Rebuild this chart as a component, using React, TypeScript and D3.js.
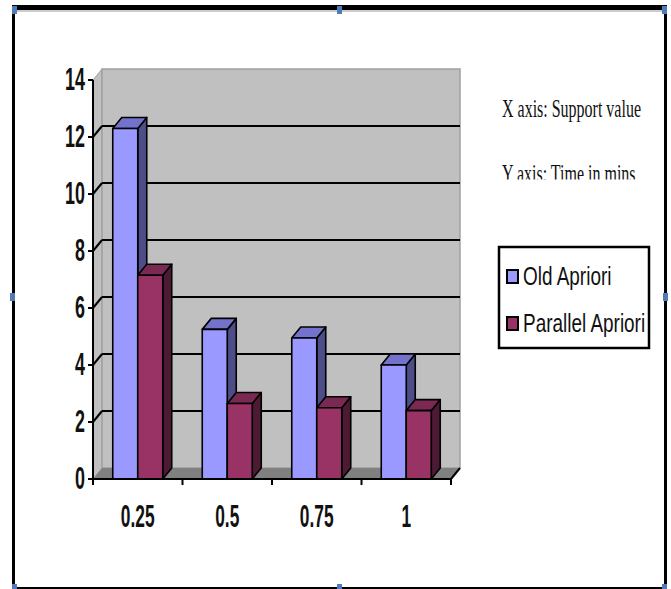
import * as d3 from "d3";

const categories = ["0.25", "0.5", "0.75", "1"];
const oldApriori = [12.3, 5.25, 4.95, 4.0];
const parallelApriori = [7.15, 2.65, 2.5, 2.4];
const seriesNames = ["Old Apriori", "Parallel Apriori"];
const yTicks = [0, 2, 4, 6, 8, 10, 12, 14];
const axisNotes = ["X axis: Support value", "Y axis: Time in mins"];

const W = 671;
const H = 589;
// 3d depth offset of walls / bars
const DX = 9;
const DY = -11;

const front = ["#9999ff", "#993366"];
const topFace = ["#7373cc", "#7a2952"];
const sideFace = ["#4d4d88", "#4d1a33"];

function Stretch({ x, y, sx, sy, anchor = "start", size, family, weight = "normal", children }: any) {
  return (
    <text
      transform={`translate(${x},${y}) scale(${sx},${sy})`}
      textAnchor={anchor}
      fontSize={size}
      fontFamily={family}
      fontWeight={weight}
      fill="#111"
    >
      {children}
    </text>
  );
}

function Bar3D({ x0, w, yTop, yBase, i }: { x0: number; w: number; yTop: number; yBase: number; i: number }) {
  const top = [
    [x0, yTop],
    [x0 + DX, yTop + DY],
    [x0 + w + DX, yTop + DY],
    [x0 + w, yTop],
  ];
  const side = [
    [x0 + w, yTop],
    [x0 + w + DX, yTop + DY],
    [x0 + w + DX, yBase + DY],
    [x0 + w, yBase],
  ];
  return (
    <g stroke="#000" strokeWidth={1.6} strokeLinejoin="round">
      <polygon points={side.join(" ")} fill={sideFace[i]} />
      <polygon points={top.join(" ")} fill={topFace[i]} />
      <rect x={x0} y={yTop} width={w} height={yBase - yTop} fill={front[i]} />
    </g>
  );
}

export default function App() {
  const x = d3.scaleBand<string>().domain(categories).range([93, 451]).padding(0);
  const xs = d3.scaleBand<string>().domain(seriesNames).range([0, x.bandwidth()]).paddingInner(0).paddingOuter(0.79);
  const y = d3.scaleLinear().domain([0, 14]).range([479, 80]);

  const x0 = 93;
  const x1 = 451;
  const y0 = y(0);
  const yMax = y(14);
  const values = [oldApriori, parallelApriori];

  const labelFont = "'Liberation Sans', Arial, sans-serif";
  const serif = "'Liberation Serif', 'Times New Roman', serif";

  const handles = [
    [12, 6], [337, 6], [662, 6],
    [10, 293], [663, 293],
    [12, 584], [337, 584], [662, 584],
  ];

  return (
    <svg width={W} height={H} style={{ position: "absolute", left: 0, top: 0 }}>
      <defs>
        <clipPath id="noteClip">
          <rect x={490} y={150} width={160} height={29.5} />
        </clipPath>
      </defs>
      <rect width={W} height={H} fill="#fff" />

      {/* frame */}
      <rect x={12} y={5} width={655} height={5} fill="#000" />
      <line x1={12} y1={11} x2={665} y2={11} stroke="#9a9a9a" strokeWidth={1} />
      <rect x={12} y={5} width={3} height={584} fill="#000" />
      <rect x={664} y={5} width={3} height={584} fill="#000" />
      <rect x={12} y={587} width={655} height={2} fill="#000" />

      {/* side wall */}
      <polygon
        points={[[x0, yMax], [x0 + DX, yMax + DY], [x0 + DX, y0 + DY], [x0, y0]].join(" ")}
        fill="#c0c0c0"
        stroke="#a0a0a0"
        strokeWidth={1}
      />
      {/* back wall */}
      <rect x={x0 + DX} y={yMax + DY} width={x1 - x0} height={y0 - yMax} fill="#c0c0c0" stroke="#a0a0a0" strokeWidth={1.5} />
      {/* floor */}
      <polygon
        points={[[x0, y0], [x1, y0], [x1 + DX, y0 + DY], [x0 + DX, y0 + DY]].join(" ")}
        fill="#808080"
      />
      <line x1={x1} y1={y0} x2={x1 + DX} y2={y0 + DY} stroke="#000" strokeWidth={2} />

      {/* gridlines */}
      {yTicks
        .filter((t) => t > 0 && t < 14)
        .map((t) => (
          <g key={t} stroke="#000" strokeWidth={2}>
            <line x1={x0 + DX} y1={y(t) + DY} x2={x1 + DX} y2={y(t) + DY} />
            <line x1={x0} y1={y(t)} x2={x0 + DX} y2={y(t) + DY} />
          </g>
        ))}

      {/* bars */}
      {categories.map((c, ci) => (
        <g key={c}>
          {seriesNames.map((s, si) => (
            <Bar3D
              key={s}
              x0={(x(c) ?? 0) + (xs(s) ?? 0)}
              w={xs.bandwidth()}
              yTop={y(values[si][ci])}
              yBase={y0}
              i={si}
            />
          ))}
        </g>
      ))}

      {/* y axis */}
      <line x1={x0} y1={yMax} x2={x0} y2={y0 + 1} stroke="#000" strokeWidth={2} />
      {yTicks.map((t) => (
        <g key={t}>
          <line x1={x0 - 5} y1={y(t)} x2={x0} y2={y(t)} stroke="#000" strokeWidth={2} />
          <Stretch x={85} y={y(t) + 10} sx={0.64} sy={1.12} anchor="end" size={28} family={labelFont} weight="bold">
            {t}
          </Stretch>
        </g>
      ))}

      {/* x axis */}
      <line x1={x0 - 1} y1={y0} x2={x1 + 1} y2={y0} stroke="#000" strokeWidth={2} />
      {[...categories.map((c) => x(c) ?? 0), x1].map((px, i) => (
        <line key={i} x1={px} y1={y0} x2={px} y2={y0 + 6} stroke="#000" strokeWidth={2} />
      ))}
      {categories.map((c) => (
        <Stretch
          key={c}
          x={(x(c) ?? 0) + x.bandwidth() / 2}
          y={527}
          sx={0.62}
          sy={1.12}
          anchor="middle"
          size={28}
          family={labelFont}
          weight="bold"
        >
          {c}
        </Stretch>
      ))}

      {/* axis notes */}
      <Stretch x={502} y={117} sx={1} sy={1.6} size={16} family={serif}>
        {axisNotes[0]}
      </Stretch>
      <g clipPath="url(#noteClip)">
        <Stretch x={502} y={182} sx={1} sy={1.6} size={16} family={serif}>
          {axisNotes[1]}
        </Stretch>
      </g>

      {/* legend */}
      <rect x={499} y={247} width={150} height={101} fill="#fff" stroke="#000" strokeWidth={2.5} />
      {seriesNames.map((s, i) => (
        <g key={s}>
          <rect x={507} y={270 + i * 47} width={11} height={13} fill={front[i]} stroke="#000" strokeWidth={2} />
          <Stretch x={523} y={285 + i * 47} sx={0.79} sy={1.05} size={24} family={labelFont}>
            {s}
          </Stretch>
        </g>
      ))}

      {/* selection handles */}
      {handles.map(([hx, hy], i) => (
        <rect key={i} x={hx} y={hy} width={5} height={8} fill="#4f7bb8" />
      ))}
    </svg>
  );
}
